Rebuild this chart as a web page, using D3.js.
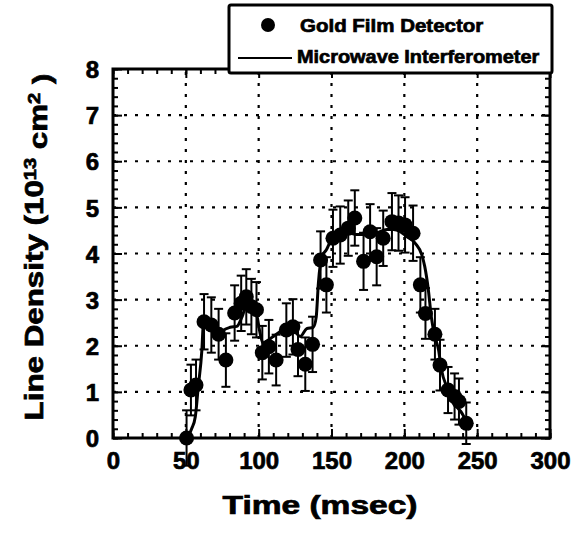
<!DOCTYPE html>
<html>
<head>
<meta charset="utf-8">
<script src="https://cdn.jsdelivr.net/npm/d3@7"></script>
<style>
  html, body { margin: 0; padding: 0; background: #fff; }
  svg { display: block; }
  text { font-family: "Liberation Sans", Arial, Helvetica, sans-serif; font-weight: bold; fill: #000;
         stroke: #000; stroke-width: 0.7px; }
</style>
</head>
<body>
<svg id="chart" width="577" height="535"></svg>
<script>
// Gold film detector measurements: time (ms), line density (1e13 cm^-2), error bar half-width
const goldTime = [50.5, 53.5, 57, 62.5, 67.5, 72.5, 77.5, 83.5, 88, 91.5, 95, 98.5, 102.5, 107, 112,
  119, 123.5, 127, 132, 137, 142.5, 146.5, 151, 156, 161.5, 166, 172, 176.5, 181, 185.5,
  191.5, 196, 200.5, 206, 211, 214.5, 221, 224.5, 230, 234.5, 237.5, 242.5];
const goldDensity = [0.0, 1.04, 1.15, 2.52, 2.45, 2.25, 1.69, 2.71, 2.92, 3.06, 2.85, 2.78, 1.85, 1.98, 1.69,
  2.34, 2.41, 1.92, 1.6, 2.03, 3.86, 3.32, 4.33, 4.4, 4.55, 4.77, 3.83, 4.47, 3.93, 4.33,
  4.69, 4.66, 4.62, 4.44, 3.32, 2.7, 2.25, 1.58, 1.04, 0.9, 0.79, 0.32];
const goldError = [0.6, 0.55, 0.55, 0.6, 0.6, 0.55, 0.58, 0.6, 0.6, 0.6, 0.6, 0.6, 0.58, 0.58, 0.55,
  0.58, 0.6, 0.58, 0.58, 0.6, 0.62, 0.6, 0.62, 0.62, 0.6, 0.6, 0.62, 0.6, 0.62, 0.6,
  0.62, 0.6, 0.6, 0.6, 0.6, 0.55, 0.55, 0.55, 0.5, 0.5, 0.5, 0.45];

// Microwave interferometer trace
const mwTime = [51, 54, 56.5, 58.5, 61, 62, 64, 69, 72.5, 75.5, 80.5, 85, 88.5, 92, 95, 98.5, 101, 103,
  106.5, 110, 116, 120.5, 125, 128.5, 133, 137.5, 139.5, 141, 143.5, 146.5, 150, 156, 161.5,
  167, 174, 181, 188, 192.5, 197, 201.5, 207.5, 212, 214, 216.5, 218.5, 221, 223.5, 225.5,
  229, 232.5, 236, 239.5, 243, 245];
const mwDensity = [0, 0.2, 0.46, 1.1, 1.9, 2.45, 2.55, 2.4, 2.2, 2.33, 2.4, 2.42, 2.62, 2.9, 2.92, 2.7, 2.27, 2.05,
  2.12, 2.2, 2.33, 2.4, 2.3, 2.2, 2.37, 2.4, 2.62, 3.36, 3.94, 4.08, 4.3, 4.4, 4.45,
  4.41, 4.41, 4.45, 4.52, 4.52, 4.48, 4.37, 4.22, 3.97, 3.72, 3.21, 2.63, 2.2, 1.91, 1.48,
  1.12, 0.9, 0.68, 0.54, 0.32, 0.17];

const xTicks = [0, 50, 100, 150, 200, 250, 300];
const yTicks = [0, 1, 2, 3, 4, 5, 6, 7, 8];
const legendLabels = ["Gold Film Detector", "Microwave Interferometer"];

const svg = d3.select("#chart");
const plotLeft = 113, plotRight = 550, plotTop = 69, plotBottom = 438;

const x = d3.scaleLinear().domain([0, 300]).range([plotLeft, plotRight]);
const y = d3.scaleLinear().domain([0, 8]).range([plotBottom, plotTop]);

// stretch a text horizontally (in its own frame) to a target width
function fitText(sel, cx, cy, rot, width, anchorStart) {
  sel.attr("transform", `translate(${cx},${cy}) rotate(${rot})`);
  const w = sel.node().getComputedTextLength ? sel.node().getBBox().width : width;
  const k = width / w;
  sel.attr("transform", `translate(${cx},${cy}) rotate(${rot}) scale(${k},1)`);
}

// dotted grid at major ticks
const grid = svg.append("g").attr("stroke", "#000").attr("stroke-width", 2.2)
  .attr("stroke-dasharray", "3,8");
grid.selectAll("line.gx").data(xTicks.slice(1, -1)).join("line")
  .attr("x1", d => x(d)).attr("x2", d => x(d)).attr("y1", plotBottom).attr("y2", plotTop);
grid.selectAll("line.gy").data(yTicks.slice(1, -1)).join("line")
  .attr("y1", d => y(d)).attr("y2", d => y(d)).attr("x1", plotLeft).attr("x2", plotRight);

// inward tick marks on all four sides
function tickAxis(axisFn, scale, values, size, transform) {
  const g = svg.append("g").attr("transform", transform)
    .call(axisFn(scale).tickValues(values).tickSize(size).tickFormat(""));
  g.select(".domain").remove();
  g.selectAll(".tick line").attr("stroke", "#000").attr("stroke-width", 2);
  return g;
}
const xMinor = d3.range(0, 301, 10);
const yMinor = d3.range(0, 8.01, 0.2);
tickAxis(d3.axisBottom, x, xMinor, -5, `translate(0,${plotBottom})`);
tickAxis(d3.axisBottom, x, xTicks, -9, `translate(0,${plotBottom})`);
tickAxis(d3.axisTop, x, xMinor, -5, `translate(0,${plotTop})`);
tickAxis(d3.axisTop, x, xTicks, -9, `translate(0,${plotTop})`);
tickAxis(d3.axisLeft, y, yMinor, -5, `translate(${plotLeft},0)`);
tickAxis(d3.axisLeft, y, yTicks, -9, `translate(${plotLeft},0)`);
tickAxis(d3.axisRight, y, yMinor, -5, `translate(${plotRight},0)`);
tickAxis(d3.axisRight, y, yTicks, -9, `translate(${plotRight},0)`);

// tick labels
const xLab = svg.append("g").attr("transform", `translate(0,${plotBottom})`)
  .call(d3.axisBottom(x).tickValues(xTicks).tickSize(0).tickPadding(31).tickFormat(d3.format("d")));
xLab.select(".domain").remove();
xLab.selectAll("text").style("font-size", "24px").attr("dy", 0);

const yLab = svg.append("g").attr("transform", `translate(${plotLeft},0)`)
  .call(d3.axisLeft(y).tickValues(yTicks).tickSize(0).tickPadding(14).tickFormat(d3.format("d")));
yLab.select(".domain").remove();
yLab.selectAll("text").style("font-size", "24px").attr("dy", "0.36em");

// plot frame
svg.append("rect").attr("x", plotLeft).attr("y", plotTop)
  .attr("width", plotRight - plotLeft).attr("height", plotBottom - plotTop)
  .attr("fill", "none").attr("stroke", "#000").attr("stroke-width", 3);

// interferometer line
const line = d3.line().x(d => x(d[0])).y(d => y(d[1])).curve(d3.curveMonotoneX);
svg.append("path").datum(mwTime.map((t, i) => [t, mwDensity[i]]))
  .attr("d", line).attr("fill", "none").attr("stroke", "#000").attr("stroke-width", 3);

// gold film points with error bars
const pts = goldTime.map((t, i) => ({ t, v: goldDensity[i], e: goldError[i] }));
const eb = svg.append("g").attr("stroke", "#000").attr("stroke-width", 2);
eb.selectAll("line.bar").data(pts).join("line")
  .attr("x1", d => x(d.t)).attr("x2", d => x(d.t))
  .attr("y1", d => y(d.v - d.e)).attr("y2", d => y(d.v + d.e));
eb.selectAll("line.capTop").data(pts).join("line")
  .attr("x1", d => x(d.t) - 4.5).attr("x2", d => x(d.t) + 4.5)
  .attr("y1", d => y(d.v + d.e)).attr("y2", d => y(d.v + d.e));
eb.selectAll("line.capBot").data(pts).join("line")
  .attr("x1", d => x(d.t) - 4.5).attr("x2", d => x(d.t) + 4.5)
  .attr("y1", d => y(d.v - d.e)).attr("y2", d => y(d.v - d.e));
svg.append("g").selectAll("circle").data(pts).join("circle")
  .attr("cx", d => x(d.t)).attr("cy", d => y(d.v)).attr("r", 7.5).attr("fill", "#000");

// legend
const lg = svg.append("g");
lg.append("rect").attr("x", 229).attr("y", 5).attr("width", 323).attr("height", 68)
  .attr("fill", "#fff").attr("stroke", "#000").attr("stroke-width", 3).attr("rx", 2);
lg.append("circle").attr("cx", 268).attr("cy", 25).attr("r", 7).attr("fill", "#000");
const lt1 = lg.append("text").style("font-size", "19px").text(legendLabels[0]);
fitText(lt1, 300, 32, 0, 184);
lg.append("line").attr("x1", 238).attr("x2", 292).attr("y1", 58).attr("y2", 58)
  .attr("stroke", "#000").attr("stroke-width", 2);
const lt2 = lg.append("text").style("font-size", "19px").text(legendLabels[1]);
fitText(lt2, 297, 63, 0, 243);

// axis titles
const xt = svg.append("text").attr("text-anchor", "middle").style("font-size", "25px").text("Time (msec)");
fitText(xt, 320, 514, 0, 195);

const yt = svg.append("text").attr("text-anchor", "middle").style("font-size", "25px");
yt.append("tspan").text("Line Density (10");
yt.append("tspan").attr("dy", "-0.45em").style("font-size", "16px").text("13");
yt.append("tspan").attr("dy", "0.45em").text(" cm");
yt.append("tspan").attr("dy", "-0.45em").style("font-size", "16px").text("2");
yt.append("tspan").attr("dy", "0.45em").text(" )");
fitText(yt, 43, 247, -90, 347);
</script>
</body>
</html>
